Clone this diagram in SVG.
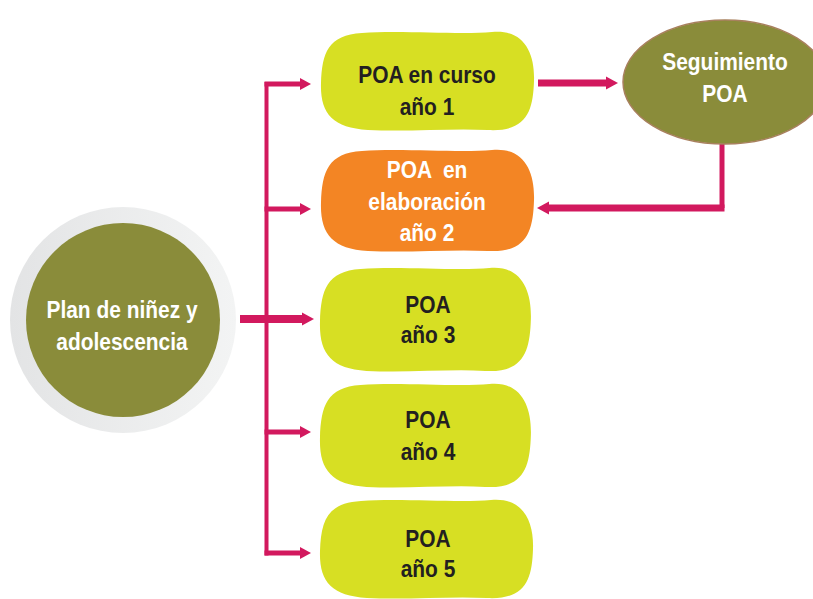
<svg xmlns="http://www.w3.org/2000/svg" width="813" height="599" viewBox="0 0 813 599">
<defs>
<style>
.t{font-family:"Liberation Sans",Arial,sans-serif;font-weight:bold;font-size:23px;text-anchor:middle}
.dk{fill:#231f20}
.wh{fill:#ffffff}
.ln{stroke:#d2195e;fill:none}
.ah{fill:#d2195e}
.lime{fill:#d7df23}
</style>
<linearGradient id="ring" x1="0" y1="0" x2="1" y2="0">
<stop offset="0" stop-color="#e3e4e5"/>
<stop offset="1" stop-color="#f3f4f4"/>
</linearGradient>
<path id="blob" d="M42 2 C80 -1 140 4 172 1 C204 -2 215 22 214 50 C213 80 207 101 168 99 C130 97 90 101 48 99 C12 97 0 82 1 52 C2 22 8 4 42 2 Z"/>
</defs>
<rect width="813" height="599" fill="#ffffff"/>

<g id="connectors">
<path class="ln" stroke-width="4" d="M266.5 82 V555.5"/>
<path class="ln" stroke-width="5" d="M264.5 84 H302"/>
<polygon class="ah" points="300,78 311,84 300,90"/>
<path class="ln" stroke-width="5" d="M264.5 209 H302"/>
<polygon class="ah" points="300,203 311,209 300,215"/>
<path class="ln" stroke-width="8" d="M240 319 H304"/>
<polygon class="ah" points="302,312.5 314,319 302,325.5"/>
<path class="ln" stroke-width="5" d="M264.5 432 H302"/>
<polygon class="ah" points="300,426 311,432 300,438"/>
<path class="ln" stroke-width="5" d="M264.5 553 H302"/>
<polygon class="ah" points="300,547 311,553 300,559"/>
<path class="ln" stroke-width="7" d="M538 83 H608"/>
<polygon class="ah" points="606,76.5 618,83 606,89.5"/>
<path class="ln" stroke-width="5" d="M722 144 V208"/>
<path class="ln" stroke-width="7" d="M724.5 208 H546"/>
<polygon class="ah" points="549,201.5 537,208 549,214.5"/>
</g>

<g id="plan">
<circle cx="123" cy="320" r="113" fill="url(#ring)"/>
<circle cx="123" cy="320" r="97" fill="#8a8c3a"/>
<text class="t wh" transform="translate(122,318) scale(0.91,1)">Plan de niñez y</text>
<text class="t wh" transform="translate(122,350) scale(0.91,1)">adolescencia</text>
</g>

<g id="poa1">
<use href="#blob" class="lime" transform="translate(320,31)"/>
<text class="t dk" transform="translate(427,83) scale(0.91,1)">POA en curso</text>
<text class="t dk" transform="translate(427,115) scale(0.91,1)">año 1</text>
</g>

<g id="poa2">
<use href="#blob" fill="#f38524" transform="translate(320,149) scale(1,1.03)"/>
<text class="t wh" transform="translate(427,178) scale(0.91,1)" xml:space="preserve">POA  en</text>
<text class="t wh" transform="translate(427,210) scale(0.91,1)">elaboración</text>
<text class="t wh" transform="translate(427,241) scale(0.91,1)">año 2</text>
</g>

<g id="poa3">
<use href="#blob" class="lime" transform="translate(319,267) scale(0.99,1.05)"/>
<text class="t dk" transform="translate(428,313) scale(0.91,1)">POA</text>
<text class="t dk" transform="translate(428,343) scale(0.91,1)">año 3</text>
</g>

<g id="poa4">
<use href="#blob" class="lime" transform="translate(319,383) scale(0.99,1.05)"/>
<text class="t dk" transform="translate(428,428) scale(0.91,1)">POA</text>
<text class="t dk" transform="translate(428,460) scale(0.91,1)">año 4</text>
</g>

<g id="poa5">
<use href="#blob" class="lime" transform="translate(319,499)"/>
<text class="t dk" transform="translate(428,547) scale(0.91,1)">POA</text>
<text class="t dk" transform="translate(428,577) scale(0.91,1)">año 5</text>
</g>

<g id="seguimiento">
<ellipse cx="725" cy="82" rx="102" ry="62" fill="#8a8c3a" stroke="#a8805e" stroke-width="1.5"/>
<text class="t wh" transform="translate(725,70) scale(0.91,1)">Seguimiento</text>
<text class="t wh" transform="translate(725,102) scale(0.91,1)">POA</text>
</g>
</svg>
